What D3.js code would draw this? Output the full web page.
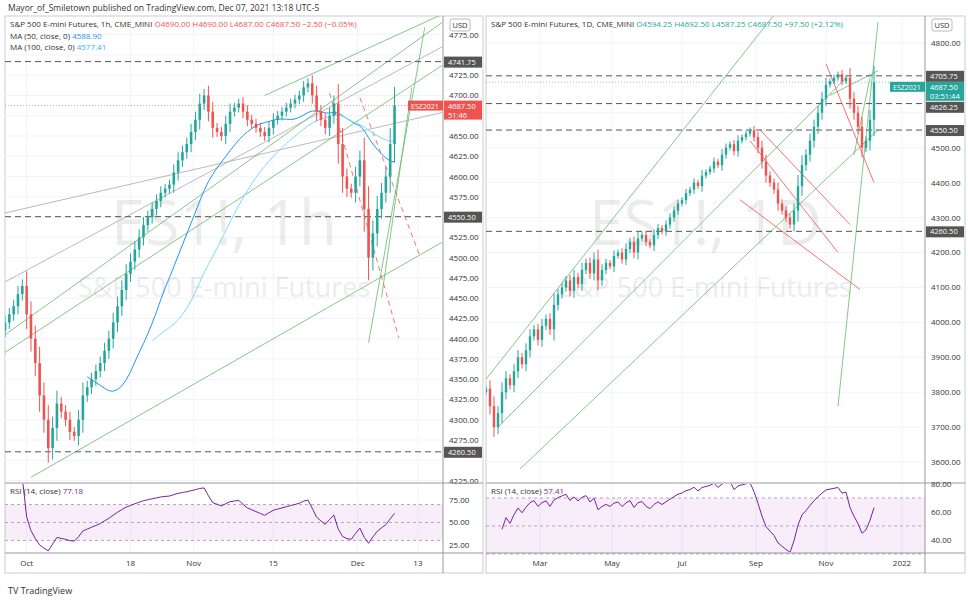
<!DOCTYPE html>
<meta charset="utf-8">
<style>
body { margin:0; background:#fff; font-family:"Open Sans", sans-serif; }
text { font-family:"Open Sans", sans-serif; }
</style>
<body>
<div id="chart"></div>
<script src="https://d3js.org/d3.v7.min.js"></script>
<script>

// hourly closes (condensed), left pane
var closes1h = [4420,4430,4440,4455,4465,4430,4400,4370,4330,4300,
  4265,4290,4320,4310,4300,4285,4280,4300,4330,4340,
  4350,4360,4370,4385,4400,4420,4440,4460,4480,4495,
  4510,4525,4540,4550,4560,4570,4580,4585,4590,4605,
  4620,4630,4640,4655,4670,4690,4700,4680,4660,4655,
  4650,4665,4680,4685,4690,4680,4670,4665,4660,4655,
  4650,4660,4670,4675,4680,4685,4690,4695,4700,4710,
  4715,4700,4680,4670,4660,4675,4690,4640,4600,4585,
  4580,4600,4620,4560,4500,4530,4560,4580,4600,4640,4687.5];
// daily closes (condensed), right pane
var closes1d = [3810,3760,3700,3740,3800,3840,3820,3860,3900,3880,
  3920,3960,3980,3950,3990,4010,3980,4050,4080,4100,
  4120,4090,4130,4110,4150,4170,4140,4180,4120,4150,
  4170,4160,4190,4200,4180,4210,4230,4200,4240,4250,
  4230,4220,4250,4270,4260,4280,4300,4320,4340,4350,
  4370,4380,4400,4390,4420,4430,4440,4460,4450,4480,
  4500,4510,4490,4520,4530,4540,4550,4530,4500,4460,
  4420,4400,4380,4340,4320,4300,4280,4320,4390,4450,
  4480,4520,4560,4600,4640,4680,4690,4700,4710,4690,
  4700,4640,4600,4560,4500,4520,4580,4687.5];

var ticks1hLabels = ["Oct","18","Nov","15","Dec","13"];
var ticks1hIdx = [5,29,43.6,62,81.5,95.4];
var ticks1dLabels = ["Mar","May","Jul","Sep","Nov","2022"];
var ticks1dIdx = [13.5,31.5,49,67.5,85,104];

var levels1h = [4741.75,4550.50,4260.50];
var levels1d = [4705.75,4626.25,4550.50,4260.50];

// trendlines [i1,p1,i2,p2]
var green1h = [[-1,4401,101,4790],[6,4229,101,4519],[0,4383,101,4737],[84,4395,97,4784],[87,4451,94,4710],[60,4700,101,4800]];
var gray1h = [[0,4555,101,4679],[0,4470,101,4760]];
var red1h = [[75,4703,91,4401],[82,4697,96,4500]];
var green1d = [[0,3837,72,4880],[8.5,3580,98,4551],[3,3700,90,4700],[88,3760,98,4860],[92,4480,96,4700],[86,4650,98,4720]];
var red1d = [[68.5,4551,91,4280],[63.5,4351,93.5,4094],[66,4520,88,4200],[85,4740,97,4400]];

var W = 968, H = 601;
var svg = d3.select("#chart").append("svg").attr("width", W).attr("height", H);

svg.append("text").attr("x",8).attr("y",11).attr("font-size",8.5).attr("fill","#333")
  .text("Mayor_of_Smiletown published on TradingView.com, Dec 07, 2021 13:18 UTC-5");
svg.append("text").attr("x",8).attr("y",594).attr("font-size",9).attr("fill","#333")
  .text("TV TradingView");

function makeCandles(cl) {
  return cl.map(function(c, i) {
    var o = i == 0 ? c - 10 : cl[i-1];
    var w = Math.abs(c - o) * 0.4 + 4;
    return {i:i, o:o, c:c, h:Math.max(o,c)+w, l:Math.min(o,c)-w};
  });
}
function sma(cl, n) {
  var out = [];
  for (var i = n-1; i < cl.length; i++) out.push([i, d3.mean(cl.slice(i-n+1, i+1))]);
  return out;
}
function rsi(cl, n) {
  var out = [], ag = 0, al = 0;
  for (var i = 1; i < cl.length; i++) {
    var d = cl[i]-cl[i-1], g = Math.max(d,0), l = Math.max(-d,0);
    if (i <= n) { ag += g/n; al += l/n; } else { ag = (ag*(n-1)+g)/n; al = (al*(n-1)+l)/n; }
    if (i >= 4) out.push([i, al == 0 ? 100 : 100 - 100/(1+ag/al)]);
  }
  return out;
}

function panel(o) {
  var g = svg.append("g");
  var x = d3.scaleLinear().domain(o.xDomain).range([o.x0, o.x1]);
  var y = d3.scaleLinear().domain(o.yDomain).range([o.yBot, 16]);
  var yr = d3.scaleLinear().domain(o.rsiDomain).range([553, 483]);
  var defs = g.append("defs");
  defs.append("clipPath").attr("id","c"+o.id).append("rect")
    .attr("x",o.x0).attr("y",16).attr("width",o.x1-o.x0).attr("height",467);
  defs.append("clipPath").attr("id","r"+o.id).append("rect")
    .attr("x",o.x0).attr("y",484).attr("width",o.x1-o.x0).attr("height",68);
  g.append("rect").attr("x",o.x0).attr("y",16).attr("width",o.x1-o.x0+40).attr("height",557)
    .attr("fill","none").attr("stroke","#ccc");
  var yt = d3.range(o.yTick[0], o.yTick[1]+1, o.yTick[2]);
  g.selectAll(".gy").data(yt).enter().append("line").attr("x1",o.x0).attr("x2",o.x1)
    .attr("y1",y).attr("y2",y).attr("stroke","#f0f3fa");
  g.selectAll(".gx").data(o.tIdx).enter().append("line").attr("x1",x).attr("x2",x)
    .attr("y1",16).attr("y2",553).attr("stroke","#f0f3fa");
  var mx = (o.x0+o.x1)/2;
  g.append("text").attr("x",mx).attr("y",245).attr("text-anchor","middle").attr("font-size",62)
    .attr("fill","#000").attr("opacity",0.07).text(o.wm);
  g.append("text").attr("x",mx).attr("y",297).attr("text-anchor","middle").attr("font-size",27)
    .attr("fill","#000").attr("opacity",0.07).text("S&P 500 E-mini Futures");
  var main = g.append("g").attr("clip-path","url(#c"+o.id+")");
  function drawLines(arr, color, dash, op) {
    main.selectAll(null).data(arr).enter().append("line")
      .attr("x1",d=>x(d[0])).attr("y1",d=>y(d[1])).attr("x2",d=>x(d[2])).attr("y2",d=>y(d[3]))
      .attr("stroke",color).attr("stroke-width",1).attr("stroke-dasharray",dash).attr("opacity",op);
  }
  drawLines(o.gray||[], "#aaa", null, 0.8);
  drawLines(o.green, "#66bb6a", null, 0.8);
  drawLines(o.red, "#ef5350", o.redDash, 0.8);
  main.selectAll(null).data(o.levels).enter().append("line").attr("x1",o.x0).attr("x2",o.x1)
    .attr("y1",y).attr("y2",y).attr("stroke","#555").attr("stroke-dasharray","6,4");
  var line = d3.line().x(d=>x(d[0])).y(d=>y(d[1]));
  (o.mas||[]).forEach(function(m) {
    main.append("path").attr("d", line(sma(o.closes, m[0]))).attr("fill","none")
      .attr("stroke",m[1]).attr("stroke-width",1);
  });
  var cs = makeCandles(o.closes);
  var bw = Math.max(1.5, (x(1)-x(0))*0.6);
  var cg = main.selectAll(null).data(cs).enter().append("g");
  cg.append("line").attr("x1",d=>x(d.i)).attr("x2",d=>x(d.i)).attr("y1",d=>y(d.h)).attr("y2",d=>y(d.l))
    .attr("stroke",d=>d.c>=d.o?"#26a69a":"#ef5350");
  cg.append("rect").attr("x",d=>x(d.i)-bw/2).attr("width",bw)
    .attr("y",d=>y(Math.max(d.o,d.c))).attr("height",d=>Math.max(1,Math.abs(y(d.o)-y(d.c))))
    .attr("fill",d=>d.c>=d.o?"#26a69a":"#ef5350");
  var last = o.closes[o.closes.length-1];
  g.append("line").attr("x1",o.x0).attr("x2",o.x1).attr("y1",y(last)).attr("y2",y(last))
    .attr("stroke",o.lastColor).attr("stroke-dasharray","1,2").attr("opacity",0.6);
  // price axis; skip ticks hidden under labels
  var ly = y(last);
  o.levels.forEach(function(l) { if (Math.abs(y(l) - ly) < 11) ly = y(l) + 11; });
  var occupied = o.levels.map(y).concat([ly, ly+9]);
  var ytShow = yt.filter(v => occupied.every(p => Math.abs(y(v)-p) > 10));
  g.append("line").attr("x1",o.x1).attr("x2",o.x1).attr("y1",16).attr("y2",573).attr("stroke","#999");
  g.selectAll(null).data(ytShow).enter().append("text").attr("x",o.x1+6).attr("y",d=>y(d)+3)
    .attr("font-size",8).attr("fill","#333").text(d=>d3.format(".2f")(d));
  g.append("rect").attr("x",o.x1+7).attr("y",19).attr("width",20).attr("height",12).attr("rx",2)
    .attr("fill","#fff").attr("stroke","#bbb");
  g.append("text").attr("x",o.x1+17).attr("y",28).attr("text-anchor","middle").attr("font-size",7.5)
    .attr("fill","#333").text("USD");
  g.append("rect").attr("x",o.x1-35).attr("y",ly-5).attr("width",35).attr("height",10).attr("fill",o.lastColor);
  g.append("text").attr("x",o.x1-32).attr("y",ly+3).attr("font-size",7).attr("fill","#fff").text("ESZ2021");
  g.append("rect").attr("x",o.x1+1).attr("y",ly-5).attr("width",38).attr("height",19).attr("fill",o.lastColor);
  g.append("text").attr("x",o.x1+5).attr("y",ly+3).attr("font-size",7.5).attr("fill","#fff").text("4687.50");
  g.append("text").attr("x",o.x1+5).attr("y",ly+12).attr("font-size",7.5).attr("fill","#fff").text(o.countdown);
  o.levels.forEach(function(l) {
    var ty = y(l);
    if (ty > ly && ty - ly < 22) ty = ly + 20;
    g.append("rect").attr("x",o.x1+1).attr("y",ty-5).attr("width",38).attr("height",11).attr("fill","#555");
    g.append("text").attr("x",o.x1+5).attr("y",ty+3).attr("font-size",7.5).attr("fill","#fff")
      .text(d3.format(".2f")(l));
  });
  var hd = g.append("text").attr("x",o.x0+5).attr("y",27).attr("font-size",8);
  hd.append("tspan").attr("fill","#333").text(o.title+"  ");
  hd.append("tspan").attr("fill",o.hdColor).text(o.ohlc);
  (o.maLabels||[]).forEach(function(m, k) {
    var t = g.append("text").attr("x",o.x0+5).attr("y",39+k*11).attr("font-size",8);
    t.append("tspan").attr("fill","#333").text(m[0]+"  ");
    t.append("tspan").attr("fill",m[2]).text(m[1]);
  });
  // RSI pane
  g.append("line").attr("x1",o.x0).attr("x2",o.x1+40).attr("y1",483).attr("y2",483).attr("stroke","#999");
  g.append("rect").attr("x",o.x0).attr("width",o.x1-o.x0).attr("y",yr(70)).attr("height",yr(30)-yr(70))
    .attr("fill","#9c27b0").attr("opacity",0.08);
  [30,50,70].forEach(function(v) {
    g.append("line").attr("x1",o.x0).attr("x2",o.x1).attr("y1",yr(v)).attr("y2",yr(v))
      .attr("stroke","#b9a0c9").attr("stroke-dasharray","3,3");
  });
  g.append("path").attr("clip-path","url(#r"+o.id+")")
    .attr("d", d3.line().x(d=>x(d[0])).y(d=>yr(d[1]))(rsi(o.closes,14)))
    .attr("fill","none").attr("stroke","#7b1fa2").attr("stroke-width",1);
  g.selectAll(null).data(o.rsiTicks).enter().append("text").attr("x",o.x1+6).attr("y",d=>yr(d)+3)
    .attr("font-size",8).attr("fill","#333").text(d=>d3.format(".2f")(d));
  var rt = g.append("text").attr("x",o.x0+5).attr("y",494).attr("font-size",8);
  rt.append("tspan").attr("fill","#333").text("RSI (14, close)  ");
  rt.append("tspan").attr("fill","#7b1fa2").text(o.rsiVal);
  g.append("line").attr("x1",o.x0).attr("x2",o.x1+40).attr("y1",553).attr("y2",553).attr("stroke","#999");
  g.selectAll(null).data(o.tIdx).enter().append("text").attr("x",x).attr("y",566)
    .attr("text-anchor","middle").attr("font-size",8).attr("fill","#333").text((d,k)=>o.tLab[k]);
}

panel({id:1, x0:5, x1:443, xDomain:[0,101.2], yDomain:[4222,4798], yBot:483, yTick:[4225,4775,25],
  closes:closes1h, levels:levels1h, green:green1h, gray:gray1h, red:red1h, redDash:"5,4",
  mas:[[20,"#2196f3"],[35,"#80d8ff"]], lastColor:"#ef5350", countdown:"51:46",
  title:"S&P 500 E-mini Futures, 1h, CME_MINI", hdColor:"#ef5350",
  ohlc:"O4690.00  H4690.00  L4687.00  C4687.50  \u22122.50 (\u22120.05%)",
  maLabels:[["MA (50, close, 0)","4588.90","#2196f3"],["MA (100, close, 0)","4577.41","#29b6f6"]],
  wm:"ES1!, 1h", rsiDomain:[16,94], rsiTicks:[25,50,75], rsiVal:"77.18",
  tIdx:ticks1hIdx, tLab:ticks1hLabels});

panel({id:2, x0:486, x1:925, xDomain:[0,109.75], yDomain:[3540,4877], yBot:483, yTick:[3600,4800,100],
  closes:closes1d, levels:levels1d, green:green1d, red:red1d, redDash:null,
  lastColor:"#26a69a", countdown:"03:51:44",
  title:"S&P 500 E-mini Futures, 1D, CME_MINI", hdColor:"#26a69a",
  ohlc:"O4594.25  H4692.50  L4587.25  C4687.50  +97.50 (+2.12%)",
  wm:"ES1!, 1D", rsiDomain:[30.7,80.7], rsiTicks:[40,60,80], rsiVal:"57.41",
  tIdx:ticks1dIdx, tLab:ticks1dLabels});
</script>
</body>
